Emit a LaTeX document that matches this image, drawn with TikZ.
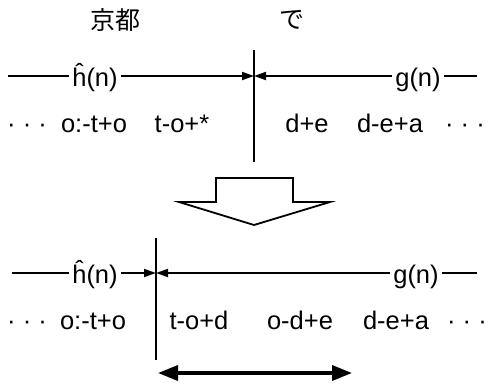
\documentclass[tikz,border=0pt]{standalone}
\usepackage{fontspec}
\setmainfont{Liberation Sans}
\newfontfamily\jpfont{Noto Sans CJK JP}
\usetikzlibrary{arrows.meta}
\begin{document}
\begin{tikzpicture}[x=1pt,y=-1pt,
  lbl/.style={inner xsep=3pt, inner ysep=0pt, anchor=base, font=\fontsize{25.5}{30}\selectfont},
  dots/.style={lbl, inner xsep=0pt},
  jpl/.style={inner sep=0pt, font=\jpfont\fontsize{25}{29}\selectfont},
  ln/.style={line width=1.8pt},
  arr/.style={ln,-{Triangle[length=12pt,width=8pt]}},
  dbl/.style={line width=3.5pt,{Triangle[length=20pt,width=15pt]}-{Triangle[length=20pt,width=15pt]}},
  blk/.style={line width=1.8pt, line join=miter}]
\useasboundingbox (0,0) rectangle (488,386);
% top labels
\node[jpl] (kyoto) at (115,20) {京都};
\node[jpl] (de) at (292,20) {で};
% upper diagram
\coordinate (v1t) at (254,50);
\coordinate (v1b) at (254,162);
\draw[ln] (v1t) -- (v1b);
\coordinate (l1) at (8,76);
\coordinate (r1) at (477,76);
\coordinate (m1) at (254,76);
\node[lbl] (h1) at (95,86) {ĥ(n)};
\node[lbl] (g1) at (418,86) {g(n)};
\draw[ln] (l1) -- (h1.west |- l1);
\draw[arr] (h1.east |- m1) -- (m1);
\draw[arr] (g1.west |- m1) -- (m1);
\draw[ln] (g1.east |- r1) -- (r1);
\node[dots, anchor=base west] (dl1) at (7,132) {· · ·};
\node[lbl] (a1) at (94,132) {o:-t+o};
\node[lbl] (b1) at (182,132) {t-o+*};
\node[lbl] (c1) at (307,132) {d+e};
\node[lbl] (d1) at (390,132) {d-e+a};
\node[dots, anchor=base east] (dr1) at (485,132) {· · ·};
% block arrow
\draw[blk] (216,178) -- (293,178) -- (293,202) -- (330,202) -- (254,225) -- (179,202) -- (216,202) -- cycle;
% lower diagram
\coordinate (v2t) at (156,238);
\coordinate (v2b) at (156,360);
\draw[ln] (v2t) -- (v2b);
\coordinate (l2) at (12,273);
\coordinate (r2) at (477,273);
\coordinate (m2) at (156,273);
\node[lbl] (h2) at (95,283) {ĥ(n)};
\node[lbl] (g2) at (416,283) {g(n)};
\draw[ln] (l2) -- (h2.west |- l2);
\draw[arr] (h2.east |- m2) -- (m2);
\draw[arr] (g2.west |- m2) -- (m2);
\draw[ln] (g2.east |- r2) -- (r2);
\node[dots, anchor=base west] (dl2) at (7,329) {· · ·};
\node[lbl] (a2) at (93,329) {o:-t+o};
\node[lbl] (b2) at (199,329) {t-o+d};
\node[lbl] (c2) at (300,329) {o-d+e};
\node[lbl] (d2) at (396,329) {d-e+a};
\node[dots, anchor=base east] (dr2) at (487,329) {· · ·};
% double arrow
\coordinate (s1) at (158,373);
\coordinate (s2) at (352,373);
\draw[dbl] (s1) -- (s2);
\end{tikzpicture}
\end{document}
